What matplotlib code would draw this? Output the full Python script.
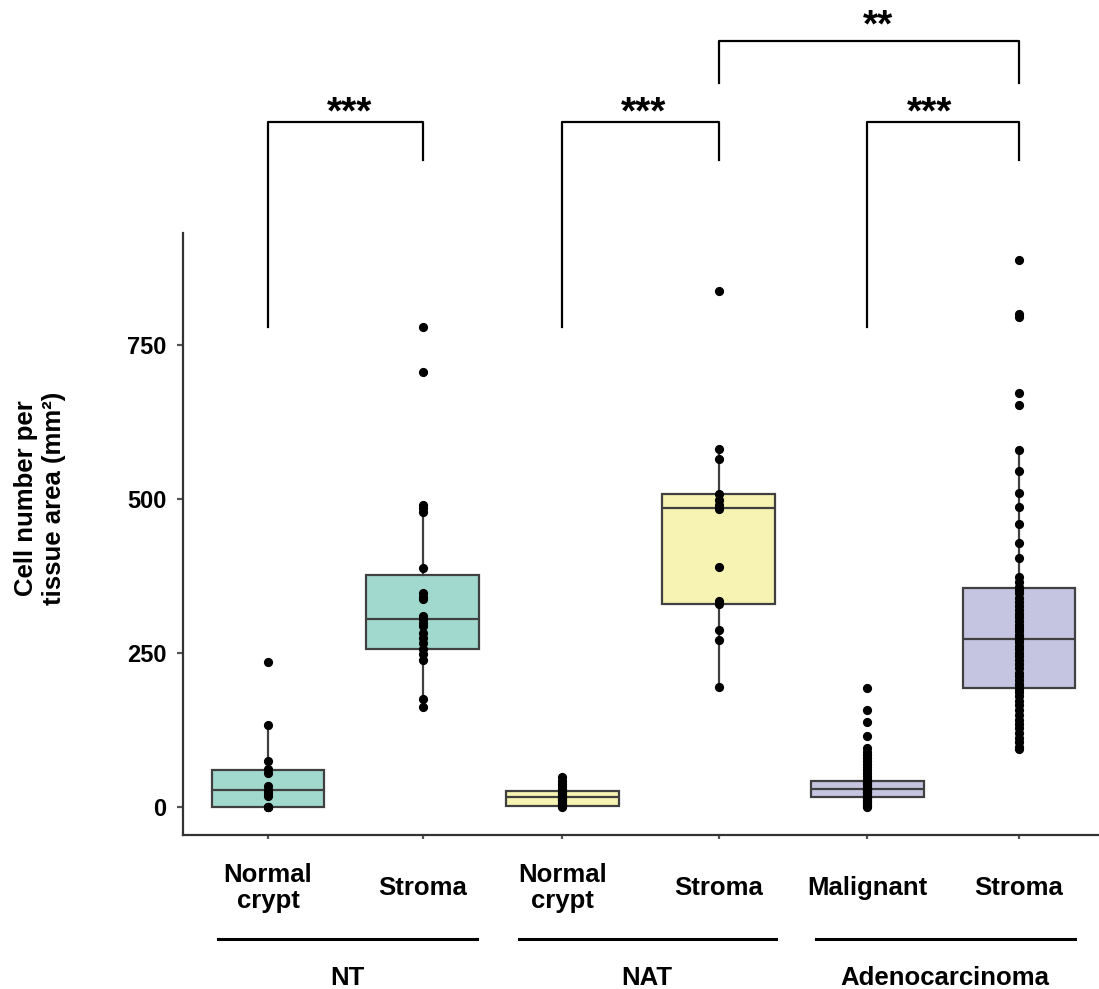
import matplotlib
matplotlib.use("Agg")
import matplotlib.pyplot as plt

plt.rcParams['font.family'] = ['Liberation Sans', 'DejaVu Sans']
plt.rcParams['font.weight'] = 'bold'

# categories
cats = ['Normal\ncrypt', 'Stroma', 'Normal\ncrypt', 'Stroma', 'Malignant', 'Stroma']
groups = ['NT', 'NAT', 'Adenocarcinoma']
colors = ['#a2d9cf', '#a2d9cf', '#f7f3b3', '#f7f3b3', '#c6c5e1', '#c6c5e1']

# box stats
q1 = [0, 256, 2, 330, 17, 194]
med = [27, 305, 16, 485, 29, 273]
q3 = [60, 377, 26, 508, 42, 356]
whislo = [0, 162, 0, 195, 0, 94]
whishi = [133, 491, 48, 581, 80, 580]

# points
nt_crypt = [0, 0, 0, 0, 18, 22, 27, 34, 55, 61, 74, 133, 235]
nt_stroma = [162, 176, 238, 249, 257, 266, 274, 282, 294, 299, 305, 310,
             337, 341, 347, 388, 479, 485, 491, 707, 779]
nat_crypt = [0, 2, 4, 5, 7, 9, 11, 13, 15, 16, 18, 20, 22, 25, 27, 30, 34,
             38, 43, 48]
nat_stroma = [195, 271, 287, 329, 334, 389, 484, 491, 498, 508, 565, 581, 838]
adc_malig = [0, 2, 4, 6, 8, 10, 12, 14, 15, 17, 18, 20, 22, 24, 25, 27, 28,
             30, 31, 33, 35, 37, 39, 41, 43, 46, 50, 55, 60, 65, 70, 75, 80,
             85, 90, 95, 116, 138, 158, 193]
adc_stroma = [94, 98, 105, 112, 120, 128, 135, 142, 150, 158, 165, 172, 180,
              186, 192, 196, 200, 206, 212, 218, 225, 232, 238, 245, 250, 256,
              262, 268, 272, 276, 280, 285, 290, 296, 302, 308, 314, 320, 327,
              333, 340, 347, 352, 358, 365, 373, 405, 428, 459, 487, 510, 545,
              580, 652, 672, 795, 800, 888]
points = [nt_crypt, nt_stroma, nat_crypt, nat_stroma, adc_malig, adc_stroma]

# significance: (left, right, label)
sig = [(0, 1, '***'), (2, 3, '***'), (4, 5, '***'), (3, 5, '**')]
sig_dx = [0.03, 0.02, -0.09, 0.06]

xpos = [0, 1.03, 1.96, 3.0, 3.99, 5.0]

fig = plt.figure(figsize=(10.99, 9.89), dpi=100)
ax = fig.add_axes([0.1665, 0.1557, 0.8335, 0.6087])

stats = []
for i in range(6):
    stats.append(dict(q1=q1[i], med=med[i], q3=q3[i],
                      whislo=whislo[i], whishi=whishi[i], fliers=[]))
edge = '#404040'
bp = ax.bxp(stats, positions=xpos, widths=0.75, patch_artist=True,
            showcaps=False, showfliers=False,
            boxprops=dict(edgecolor=edge, linewidth=1.6),
            medianprops=dict(color=edge, linewidth=1.6),
            whiskerprops=dict(color=edge, linewidth=1.6))
for patch, c in zip(bp['boxes'], colors):
    patch.set_facecolor(c)

for x, pts in zip(xpos, points):
    ax.plot([x] * len(pts), pts, 'o', color='black', markersize=5.6, zorder=5)

ax.set_xlim(-0.566, 5.533)
ax.set_ylim(-45.5, 932)
ax.spines['top'].set_visible(False)
ax.spines['right'].set_visible(False)
for s in ['left', 'bottom']:
    ax.spines[s].set_color('#333333')
    ax.spines[s].set_linewidth(1.6)
ax.set_yticks([0, 250, 500, 750])
ax.tick_params(axis='y', labelsize=17, length=4, width=1.6, color='#555555', pad=8)
ax.set_xticks(xpos)
ax.set_xticklabels([])
ax.tick_params(axis='x', length=3, width=1.6, color='#555555')

# category labels
for x, c in zip(xpos, cats):
    ax.text(x, -132, c, ha='center', va='center', fontsize=18.5,
            fontweight='bold', linespacing=1.12, clip_on=False)

# group lines and labels
gline = [(-0.33, 1.39), (1.67, 3.38), (3.65, 5.37)]
for (a, b), g in zip(gline, groups):
    ax.plot([a, b], [-214, -214], color='black', linewidth=2.2, clip_on=False)
    ax.text((a + b) / 2, -278, g, ha='center', va='center', fontsize=18.5,
            fontweight='bold', clip_on=False)

# brackets
for (a, b, lab), dx in zip(sig, sig_dx):
    if lab == '***':
        top, lo_a, lo_b, base = 1113, 779, 1050, -3
    else:
        top, lo_a, lo_b, base = 1243, 1176, 1176, 8
    ax.plot([xpos[a], xpos[a], xpos[b], xpos[b]], [lo_a, top, top, lo_b],
            color='black', linewidth=1.6, clip_on=False)
    ax.text((xpos[a] + xpos[b]) / 2 + dx, top + base, lab, ha='center',
            va='baseline', fontsize=28, fontweight='bold', clip_on=False)

fig.text(40 / 1099, 1 - 498 / 989, 'Cell number per\ntissue area (mm²)',
         rotation=90, ha='center', va='center', fontsize=18.5,
         fontweight='bold', linespacing=1.25)

fig.savefig('out.png', dpi=100)
